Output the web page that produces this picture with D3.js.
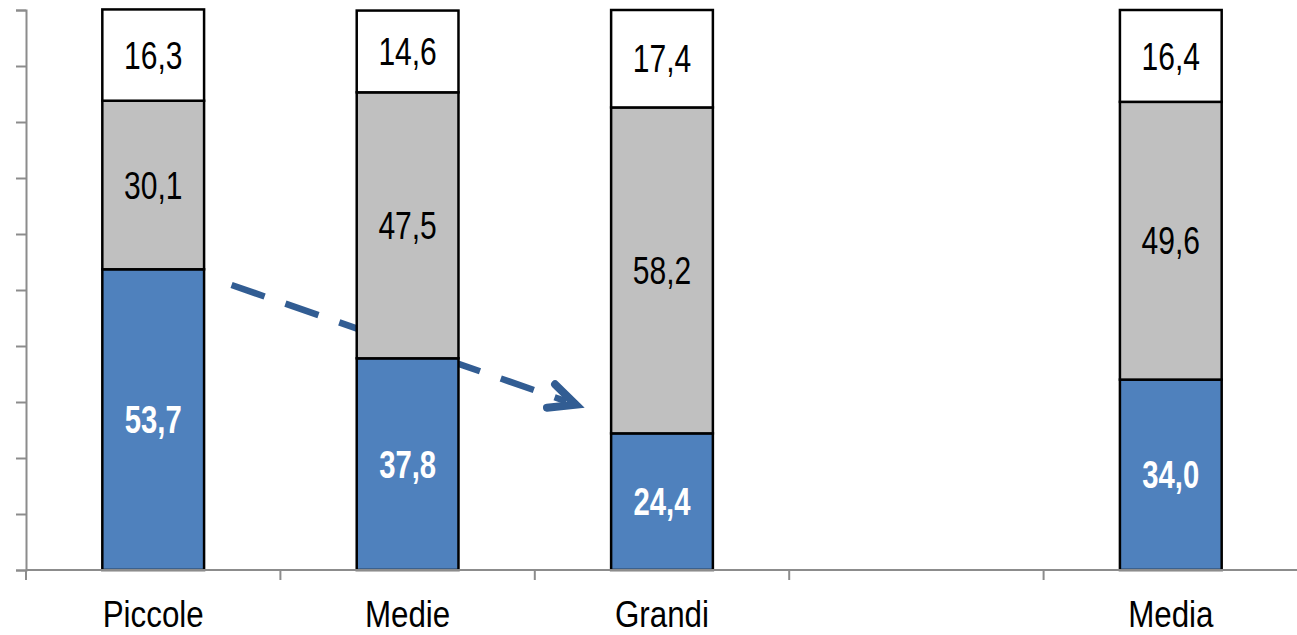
<!DOCTYPE html>
<html>
<head>
<meta charset="utf-8">
<script src="https://cdn.jsdelivr.net/npm/d3@7"></script>
<style>
  html, body { margin: 0; padding: 0; background: #fff; }
  svg { display: block; }
  text { font-family: 'Liberation Sans Narrow', 'Arial Narrow', 'Liberation Sans', Arial, sans-serif; }
</style>
</head>
<body>
<svg id="chart" width="1297" height="635"></svg>
<script>
const categories = ["Piccole", "Medie", "Grandi", "", "Media"];
const blueValues = [53.7, 37.8, 24.4, null, 34.0];
const grayValues = [30.1, 47.5, 58.2, null, 49.6];
const whiteValues = [16.3, 14.6, 17.4, null, 16.4];
const yTicks = [0, 10, 20, 30, 40, 50, 60, 70, 80, 90, 100];
// dashed arrow annotation (category + bar-width offset, value)
const arrowFrom = { cat: "Piccole", offset: 1.27, value: 50.9 };
const arrowTo = { cat: "Grandi", offset: -0.31, value: 29.3 };

(function () {
const svg = d3.select("#chart");
const mLeft = 26, mRight = 1298, mTop = 10, mBottom = 570;

const x = d3.scaleBand().domain(categories).range([mLeft, mRight]).paddingInner(0.6).paddingOuter(0.3);
const xSlot = d3.scaleBand().domain(categories).range([mLeft, mRight]).padding(0);
const y = d3.scaleLinear().domain([0, 100]).range([mBottom, mTop]);
const bw = x.bandwidth();

const series = [
  { name: "blue", values: blueValues, fill: "#4F81BD", text: "#fff", weight: "bold" },
  { name: "gray", values: grayValues, fill: "#C0C0C0", text: "#000", weight: "normal" },
  { name: "white", values: whiteValues, fill: "#FFFFFF", text: "#000", weight: "normal" }
];

// narrow-looking text via horizontal scaling
function narrowText(sel, cx, cy, sx) {
  return sel.attr("transform", `translate(${cx},${cy}) scale(${sx},1)`).attr("x", 0).attr("y", 0);
}

const axisColor = "#8C8C8C";
// y axis
const yAxis = d3.axisLeft(y).tickValues(yTicks).tickSize(10).tickFormat("");
const gy = svg.append("g").attr("transform", `translate(${mLeft},0)`).call(yAxis);
gy.selectAll("line").attr("stroke", axisColor).attr("stroke-width", 2);
gy.select(".domain").attr("stroke", axisColor).attr("stroke-width", 2);

// x axis: ticks at slot boundaries
const boundaries = categories.map(c => xSlot(c));
const gx = svg.append("g");
gx.selectAll("line.tick").data(boundaries).enter().append("line")
  .attr("class", "tick")
  .attr("x1", d => d).attr("x2", d => d).attr("y1", mBottom).attr("y2", mBottom + 10)
  .attr("stroke", axisColor).attr("stroke-width", 2);
categories.forEach(c => {
  const t = gx.append("text")
    .attr("text-anchor", "middle")
    .attr("font-size", 36)
    .attr("fill", "#000")
    .text(c);
  narrowText(t, x(c) + bw / 2, 627, 0.87);
});

// arrow (behind bars)
const arrowColor = "#325D93";
const sx = x(arrowFrom.cat) + bw * arrowFrom.offset, sy = y(arrowFrom.value);
const tx = x(arrowTo.cat) + bw * arrowTo.offset, ty = y(arrowTo.value);
const ang = Math.atan2(ty - sy, tx - sx);
svg.append("line")
  .attr("x1", sx).attr("y1", sy)
  .attr("x2", tx - 14 * Math.cos(ang)).attr("y2", ty - 14 * Math.sin(ang))
  .attr("stroke", arrowColor).attr("stroke-width", 6.5)
  .attr("stroke-dasharray", "35,22");
const tipX = tx - 4 * Math.cos(ang), tipY = ty - 4 * Math.sin(ang);
const L = 29, spread = 0.44;
const p1 = [tipX - L * Math.cos(ang - spread), tipY - L * Math.sin(ang - spread)];
const p2 = [tipX - L * Math.cos(ang + spread), tipY - L * Math.sin(ang + spread)];
svg.append("path")
  .attr("d", `M${p1[0]},${p1[1]} L${tipX},${tipY} L${p2[0]},${p2[1]}`)
  .attr("fill", "none").attr("stroke", arrowColor).attr("stroke-width", 8)
  .attr("stroke-linecap", "round").attr("stroke-linejoin", "miter");

// stacked bars
categories.forEach((c, i) => {
  if (blueValues[i] == null) return;
  let base = 0;
  series.forEach(s => {
    const v = s.values[i];
    const y0 = y(base), y1 = y(base + v);
    svg.append("rect")
      .attr("x", x(c)).attr("y", y1)
      .attr("width", bw).attr("height", y0 - y1)
      .attr("fill", s.fill).attr("stroke", "#000").attr("stroke-width", 2.5);
    const t = svg.append("text")
      .attr("dy", "0.36em")
      .attr("text-anchor", "middle")
      .attr("font-size", 38)
      .attr("font-weight", s.weight)
      .attr("fill", s.text)
      .text(d3.format(".1f")(v).replace(".", ","));
    narrowText(t, x(c) + bw / 2, (y0 + y1) / 2, s.weight === "bold" ? 0.77 : 0.79);
    base += v;
  });
});
// x-axis baseline on top of bars
svg.append("line").attr("x1", mLeft).attr("x2", mRight).attr("y1", mBottom).attr("y2", mBottom)
  .attr("stroke", axisColor).attr("stroke-width", 2);
})();
</script>
</body>
</html>
